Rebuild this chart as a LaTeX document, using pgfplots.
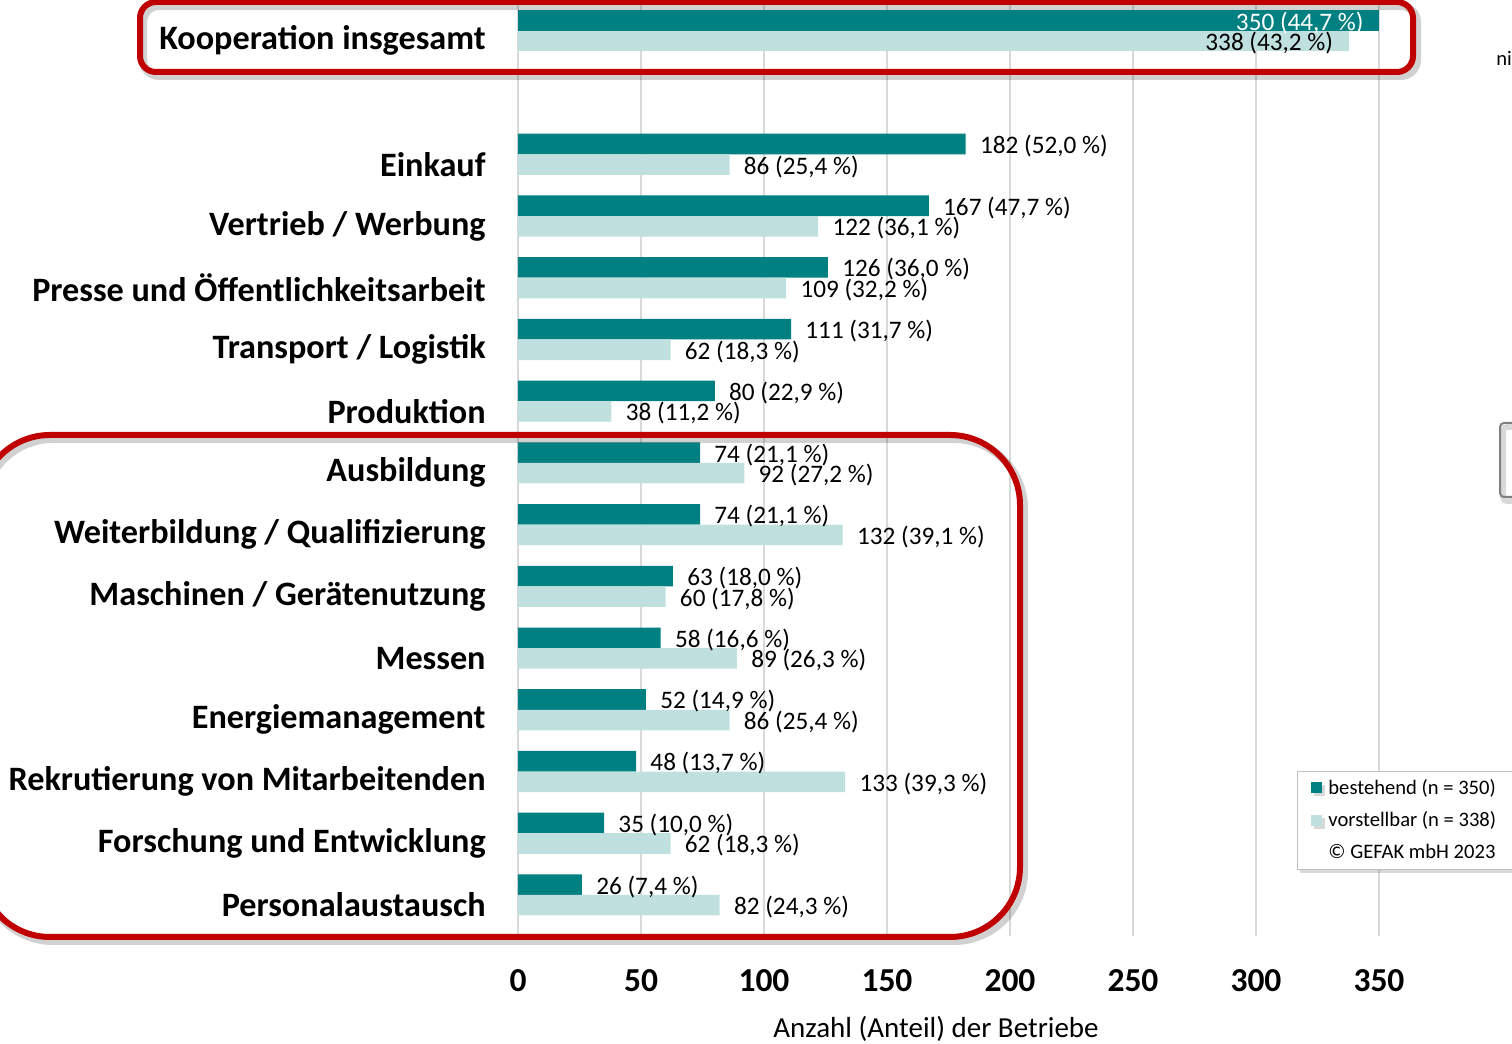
\documentclass[border=0pt]{standalone}
\usepackage{pgfplots}
\pgfplotsset{compat=1.18}
\usepackage{fontspec}
\setmainfont{Carlito}
\usetikzlibrary{shadows}
\definecolor{dk}{RGB}{0,128,128}
\definecolor{lt}{RGB}{192,224,224}
\definecolor{rd}{RGB}{192,0,0}
\begin{document}
\begin{tikzpicture}
\path[use as bounding box] (0,0) rectangle (756pt,522pt);
\begin{axis}[
  at={(259pt,522pt)}, anchor=north west,
  scale only axis, width=430.5pt, height=468pt,
  xmin=0, xmax=350, ymin=0.335, ymax=15.5,
  xbar, bar width=0.333,
  legend image code/.code={\fill[#1] (0pt,-2.5pt) rectangle (5.5pt,3pt);},
  xtick={0,50,100,150,200,250,300,350},
  ytick={1,2,3,4,5,6,7,8,9,10,11,12,13,15},
  yticklabels={Personalaustausch, Forschung und Entwicklung, Rekrutierung von Mitarbeitenden, Energiemanagement, Messen, Maschinen / Gerätenutzung, Weiterbildung / Qualifizierung, Ausbildung, Produktion, Transport / Logistik, Presse und Öffentlichkeitsarbeit, Vertrieb / Werbung, Einkauf, Kooperation insgesamt},
  /pgf/number format/assume math mode=true,
  axis line style={draw=none}, major tick length=0pt,
  xmajorgrids, grid style={draw=black!15, line width=0.6pt},
  xticklabel style={font=\fontsize{16.75}{20}\selectfont\bfseries, yshift=-13pt},
  yticklabel style={font=\fontsize{17.1}{20}\selectfont\bfseries, inner sep=0pt, xshift=-16pt, yshift=-5pt},
  nodes near coords, point meta=explicit symbolic,
  every node near coord/.append style={font=\fontsize{12.6}{15}\selectfont, inner sep=0pt, anchor=west, xshift=7pt, yshift=-1pt, text=black},
  legend style={at={(0.9048,0.0705)}, anchor=south west, draw=black!25, fill=white,
    font=\fontsize{10.3}{12}\selectfont, row sep=3.3pt, inner xsep=7pt, inner ysep=2pt,
    nodes={inner xsep=3pt},
    drop shadow={shadow xshift=1.5pt, shadow yshift=-1.5pt, opacity=0.3}},
  legend cell align=left,
]
\addplot[fill=dk, draw=none, bar shift=0.1665] coordinates {
  (182,13) [182 (52,0 \%)]
  (167,12) [167 (47,7 \%)]
  (126,11) [126 (36,0 \%)]
  (111,10) [111 (31,7 \%)]
  (80,9) [80 (22,9 \%)]
  (74,8) [74 (21,1 \%)]
  (74,7) [74 (21,1 \%)]
  (63,6) [63 (18,0 \%)]
  (58,5) [58 (16,6 \%)]
  (52,4) [52 (14,9 \%)]
  (48,3) [48 (13,7 \%)]
  (35,2) [35 (10,0 \%)]
  (26,1) [26 (7,4 \%)]
};
\addlegendentry{bestehend (n = 350)}
\addplot[fill=lt, draw=none, bar shift=-0.1665] coordinates {
  (86,13) [86 (25,4 \%)]
  (122,12) [122 (36,1 \%)]
  (109,11) [109 (32,2 \%)]
  (62,10) [62 (18,3 \%)]
  (38,9) [38 (11,2 \%)]
  (92,8) [92 (27,2 \%)]
  (132,7) [132 (39,1 \%)]
  (60,6) [60 (17,8 \%)]
  (89,5) [89 (26,3 \%)]
  (86,4) [86 (25,4 \%)]
  (133,3) [133 (39,3 \%)]
  (62,2) [62 (18,3 \%)]
  (82,1) [82 (24,3 \%)]
};
\addlegendentry{vorstellbar (n = 338)}
\addplot[fill=dk, draw=none, bar shift=0.1665, forget plot,
  every node near coord/.append style={anchor=east, xshift=-14.5pt, text=white}] coordinates {
  (350,15) [350 (44,7 \%)]
};
\addplot[fill=lt, draw=none, bar shift=-0.1665, forget plot,
  every node near coord/.append style={anchor=east, xshift=-15pt, text=black}] coordinates {
  (338,15) [338 (43,2 \%)]
};
\addlegendimage{empty legend}
\addlegendentry{© GEFAK mbH 2023}
\end{axis}
\begin{scope}[x=0.5pt, y=-0.5pt, yshift=522pt]
  % shadows of the red boxes
  \draw[black, opacity=0.18, line width=4pt, rounded corners=8pt] (143,6) rectangle (1417,76);
  \draw[black, opacity=0.18, line width=4pt, rounded corners=35pt] (-17,439) rectangle (1024,941);
  \draw[rd, line width=3pt, rounded corners=8pt] (140,2) rectangle (1413,72);
  \draw[rd, line width=3pt, rounded corners=35pt] (-20,435) rectangle (1020,937);
  \node[anchor=center, font=\fontsize{14.5}{17}\selectfont] at (936,1029) {Anzahl (Anteil) der Betriebe};
  \node[anchor=west, inner sep=0pt, font=\fontsize{10.3}{12}\selectfont] at (1496,58) {nicht};
  \draw[black!15, line width=3pt, rounded corners=2pt] (1503,427) rectangle (1545,501);
  \draw[black!50, line width=1pt, rounded corners=2pt] (1500,423) rectangle (1545,497);
\end{scope}
\end{tikzpicture}
\end{document}
